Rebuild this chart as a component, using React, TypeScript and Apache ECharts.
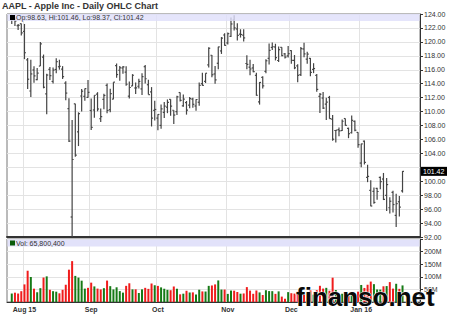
import React, { useEffect, useRef } from 'react';
import * as echarts from 'echarts';

const dates = [
  '2015-07-28','2015-07-29','2015-07-30','2015-07-31',
  '2015-08-03','2015-08-04','2015-08-05','2015-08-06','2015-08-07','2015-08-10','2015-08-11','2015-08-12','2015-08-13','2015-08-14','2015-08-17','2015-08-18','2015-08-19','2015-08-20','2015-08-21','2015-08-24','2015-08-25','2015-08-26','2015-08-27','2015-08-28','2015-08-31',
  '2015-09-01','2015-09-02','2015-09-03','2015-09-04','2015-09-08','2015-09-09','2015-09-10','2015-09-11','2015-09-14','2015-09-15','2015-09-16','2015-09-17','2015-09-18','2015-09-21','2015-09-22','2015-09-23','2015-09-24','2015-09-25','2015-09-28','2015-09-29','2015-09-30',
  '2015-10-01','2015-10-02','2015-10-05','2015-10-06','2015-10-07','2015-10-08','2015-10-09','2015-10-12','2015-10-13','2015-10-14','2015-10-15','2015-10-16','2015-10-19','2015-10-20','2015-10-21','2015-10-22','2015-10-23','2015-10-26','2015-10-27','2015-10-28','2015-10-29','2015-10-30',
  '2015-11-02','2015-11-03','2015-11-04','2015-11-05','2015-11-06','2015-11-09','2015-11-10','2015-11-11','2015-11-12','2015-11-13','2015-11-16','2015-11-17','2015-11-18','2015-11-19','2015-11-20','2015-11-23','2015-11-24','2015-11-25','2015-11-27','2015-11-30',
  '2015-12-01','2015-12-02','2015-12-03','2015-12-04','2015-12-07','2015-12-08','2015-12-09','2015-12-10','2015-12-11','2015-12-14','2015-12-15','2015-12-16','2015-12-17','2015-12-18','2015-12-21','2015-12-22','2015-12-23','2015-12-24','2015-12-28','2015-12-29','2015-12-30','2015-12-31',
  '2016-01-04','2016-01-05','2016-01-06','2016-01-07','2016-01-08','2016-01-11','2016-01-12','2016-01-13','2016-01-14','2016-01-15','2016-01-19','2016-01-20','2016-01-21','2016-01-22',
];

const opens = [
  123.38, 123.15, 122.32, 122.60,
  121.50, 117.42, 112.95, 115.97, 114.58, 116.53, 117.81, 112.53, 116.04, 114.32, 116.04, 116.43, 116.10, 114.08, 110.43, 94.87, 111.11, 107.09, 112.23, 112.17, 112.03,
  110.15, 110.23, 112.49, 108.97, 111.75, 113.76, 110.27, 111.79, 116.58, 115.93, 116.25, 115.66, 112.21, 113.67, 113.38, 113.63, 113.25, 116.44, 113.85, 112.83, 110.17,
  109.07, 108.01, 109.88, 110.63, 111.74, 110.19, 110.00, 112.73, 110.82, 111.29, 110.93, 111.78, 110.80, 111.34, 114.00, 114.33, 116.70, 118.08, 115.40, 116.93, 118.70, 120.99,
  119.87, 120.79, 123.13, 121.85, 121.11, 120.96, 116.90, 116.37, 116.26, 115.20, 111.38, 114.92, 115.76, 117.64, 119.20, 119.27, 117.33, 119.21, 118.29, 117.99,
  118.75, 117.34, 116.55, 115.29, 118.98, 117.52, 117.64, 116.04, 115.19, 112.18, 111.94, 111.07, 112.02, 108.91, 107.28, 107.40, 107.27, 109.00, 107.59, 106.96, 108.58, 107.01,
  102.61, 105.75, 100.56, 98.68, 98.55, 98.97, 100.55, 100.32, 97.96, 96.20, 98.41, 95.10, 97.06, 98.63,
];

const highs = [
  123.91, 123.50, 122.57, 122.64,
  122.57, 117.70, 117.44, 116.50, 116.25, 119.99, 118.18, 115.42, 116.40, 116.31, 117.65, 117.44, 116.52, 114.35, 111.90, 108.80, 111.11, 109.89, 113.24, 113.31, 114.53,
  111.88, 112.34, 112.78, 110.45, 112.56, 114.02, 113.28, 114.21, 116.89, 116.53, 116.54, 116.49, 114.30, 115.37, 114.18, 114.72, 115.50, 116.69, 114.57, 113.51, 111.54,
  109.62, 111.01, 111.37, 111.74, 111.77, 110.19, 112.28, 112.75, 112.45, 111.52, 112.10, 112.00, 111.75, 114.17, 115.58, 115.50, 119.23, 118.13, 116.54, 119.30, 120.69, 121.22,
  121.36, 123.49, 123.82, 122.69, 121.81, 121.81, 118.07, 117.42, 116.82, 115.57, 114.24, 115.05, 117.49, 119.75, 119.92, 119.73, 119.35, 119.23, 118.41, 119.41,
  118.81, 118.11, 116.79, 119.25, 119.86, 118.60, 117.69, 116.94, 115.39, 112.68, 112.80, 111.99, 112.25, 109.52, 107.37, 107.72, 108.85, 109.00, 107.69, 109.43, 108.70, 107.03,
  105.37, 105.85, 102.37, 100.13, 99.11, 99.06, 100.69, 101.19, 100.48, 97.71, 98.65, 98.19, 97.88, 101.46,
];

const lows = [
  122.55, 122.27, 121.71, 120.91,
  117.52, 113.25, 112.10, 114.12, 114.50, 116.53, 113.33, 109.63, 114.54, 114.01, 115.50, 116.01, 114.68, 111.63, 105.65, 92.00, 103.50, 105.05, 110.02, 111.54, 112.00,
  107.36, 109.13, 110.04, 108.51, 110.32, 109.77, 109.90, 111.76, 114.86, 114.42, 115.44, 113.72, 111.87, 113.66, 112.52, 113.30, 112.37, 114.02, 112.44, 107.86, 108.73,
  107.31, 107.55, 109.07, 109.77, 109.41, 108.21, 109.49, 111.44, 110.68, 109.56, 110.49, 110.53, 110.11, 110.82, 113.70, 114.10, 116.33, 114.92, 113.99, 116.06, 118.27, 119.45,
  119.61, 120.70, 121.62, 120.18, 120.62, 120.05, 116.06, 115.21, 115.65, 112.27, 111.00, 113.32, 115.50, 116.76, 118.85, 117.34, 117.12, 117.92, 117.60, 117.75,
  116.86, 116.08, 114.22, 115.11, 117.81, 116.86, 115.08, 115.51, 112.85, 109.79, 110.35, 108.80, 108.98, 105.81, 105.57, 106.45, 107.20, 107.95, 106.18, 106.86, 107.18, 104.82,
  102.00, 102.41, 99.87, 96.43, 96.76, 97.34, 98.84, 97.30, 95.74, 95.36, 95.50, 93.42, 94.94, 98.37,
];

const closes = [
  123.38, 122.99, 122.37, 121.30,
  118.44, 114.64, 115.40, 115.13, 115.52, 119.72, 113.49, 115.24, 115.15, 115.96, 117.16, 116.50, 115.01, 112.65, 105.76, 103.12, 103.74, 109.69, 112.92, 113.29, 112.76,
  107.72, 112.34, 110.37, 109.27, 112.31, 110.15, 112.57, 114.21, 115.31, 116.28, 116.41, 113.92, 113.45, 115.21, 113.40, 114.32, 115.00, 114.71, 112.44, 109.06, 110.30,
  109.58, 110.38, 110.78, 111.31, 110.78, 109.50, 112.12, 111.60, 111.79, 110.21, 111.86, 111.04, 111.73, 113.77, 113.76, 115.50, 119.08, 115.28, 114.55, 119.27, 120.53, 119.50,
  121.18, 122.57, 122.00, 120.92, 121.06, 120.57, 116.77, 116.11, 115.72, 112.34, 114.18, 113.69, 117.29, 118.78, 119.30, 117.75, 118.88, 118.03, 117.81, 118.30,
  117.34, 116.28, 115.20, 119.03, 118.28, 118.23, 115.62, 116.17, 113.18, 112.48, 110.49, 111.34, 108.98, 106.03, 107.33, 107.23, 108.61, 108.03, 106.82, 108.74, 107.32, 105.26,
  105.35, 102.71, 100.70, 96.45, 96.96, 98.53, 99.96, 97.39, 99.52, 97.13, 96.66, 96.79, 96.30, 101.42,
];

// volumes in millions of shares
const volumesM = [
  33.6, 37.0, 33.6, 42.9,
  69.9, 124.1, 99.3, 52.9, 38.7, 54.9, 97.1, 101.7, 48.5, 42.9, 40.9, 34.5, 48.3, 68.5, 128.3, 162.2, 103.6, 96.8, 84.6, 53.1, 56.2,
  76.8, 61.9, 53.2, 49.9, 54.8, 85.0, 62.9, 49.9, 58.4, 43.3, 37.2, 64.1, 74.3, 50.2, 50.3, 35.8, 50.2, 56.2, 52.1, 73.4, 66.5,
  63.9, 58.0, 52.6, 48.2, 46.8, 61.6, 52.6, 30.5, 33.0, 44.5, 37.7, 38.2, 29.8, 48.8, 42.0, 41.6, 64.0, 65.6, 69.8, 85.6, 49.4, 49.4,
  32.2, 45.5, 44.9, 39.6, 33.0, 33.9, 59.1, 45.2, 32.5, 45.8, 38.0, 27.7, 46.7, 43.3, 43.0, 32.3, 42.2, 21.4, 13.0, 39.2,
  34.9, 33.4, 41.6, 57.8, 32.1, 34.1, 46.4, 29.2, 46.9, 64.3, 53.3, 56.2, 44.7, 96.5, 47.6, 32.8, 32.7, 13.6, 26.7, 30.9, 25.2, 40.9,
  67.6, 55.8, 68.5, 81.1, 70.8, 49.7, 49.2, 62.4, 63.2, 79.0, 53.1, 72.3, 52.2, 65.8004,
];

const prevCloseBeforeStart = 122.77;
const monthLabels = ['Aug 15', 'Sep', 'Oct', 'Nov', 'Dec', 'Jan 16'];
const priceMin = 92;
const priceMax = 124;
const priceStep = 2;
const volMax = 250e6;
const volStep = 50e6;

const FONT = '"Liberation Sans", Arial, sans-serif';
const GREEN = '#167a16';
const RED = '#f01c1c';
const BAR = '#444';
const GRIDLINE = '#e3e3e3';

export default function App() {
  const ref = useRef<HTMLDivElement>(null);

  useEffect(() => {
    const chart = echarts.init(ref.current!, null, { renderer: 'svg' });
    const lead = 1;
    const trail = 5;
    const cats = [...Array(lead).fill(''), ...dates, ...Array(trail).fill('')];

    const monthStarts: number[] = [];
    dates.forEach((d, i) => {
      if (i > 0 && d.slice(5, 7) !== dates[i - 1].slice(5, 7)) monthStarts.push(i + lead);
    });
    const labelMap = new Map<number, string>();
    monthStarts.forEach((idx, k) => labelMap.set(idx, monthLabels[k]));
    const isMonthStart = (index: number) => labelMap.has(index);

    const ohlc = dates.map((_, i) => [i + lead, opens[i], highs[i], lows[i], closes[i]]);
    const vol = dates.map((_, i) => {
      const prev = i > 0 ? closes[i - 1] : prevCloseBeforeStart;
      return {
        value: [i + lead, volumesM[i] * 1e6],
        itemStyle: { color: closes[i] >= prev ? GREEN : RED },
      };
    });

    const last = dates.length - 1;

    const gridBase = { left: 7, width: 413, show: true, borderColor: '#777', borderWidth: 1, backgroundColor: '#fff' };

    chart.setOption({
      animation: false,
      backgroundColor: '#fff',
      textStyle: { fontFamily: FONT },
      grid: [
        { ...gridBase, top: 14, height: 223 },
        { ...gridBase, top: 239, height: 63 },
      ],
      xAxis: [
        {
          type: 'category', gridIndex: 0, data: cats, boundaryGap: true,
          axisLine: { show: true, lineStyle: { color: '#333', width: 2 } },
          axisTick: { show: false }, axisLabel: { show: false },
          splitLine: { show: true, interval: (i: number) => isMonthStart(i), lineStyle: { color: GRIDLINE, width: 1 } },
        },
        {
          type: 'category', gridIndex: 1, data: cats, boundaryGap: true,
          axisLine: { show: true, lineStyle: { color: '#333', width: 1 } },
          axisTick: { show: false },
          axisLabel: {
            show: true, interval: (i: number) => isMonthStart(i),
            formatter: (_v: string, i: number) => labelMap.get(i) ?? '',
            fontSize: 7, fontWeight: 'bold', color: '#333', margin: 4, fontFamily: FONT,
          },
          splitLine: { show: true, interval: (i: number) => isMonthStart(i), lineStyle: { color: GRIDLINE, width: 1 } },
        },
      ],
      yAxis: [
        {
          type: 'value', gridIndex: 0, position: 'right', min: priceMin, max: priceMax, interval: priceStep,
          axisLine: { show: true, lineStyle: { color: '#333' } },
          axisTick: { show: true, length: 3, lineStyle: { color: '#333' } },
          axisLabel: {
            fontSize: 7, color: '#333', margin: 4, fontFamily: FONT,
            formatter: (v: number) => (Math.abs(v - 102) < 1e-9 ? '' : v.toFixed(2)),
          },
          splitLine: { show: true, lineStyle: { color: GRIDLINE } },
        },
        {
          type: 'value', gridIndex: 1, position: 'right', min: 0, max: volMax, interval: volStep,
          axisLine: { show: true, lineStyle: { color: '#333' } },
          axisTick: { show: true, length: 3, lineStyle: { color: '#333' } },
          axisLabel: {
            fontSize: 7, color: '#333', margin: 4, fontFamily: FONT,
            formatter: (v: number) => (v === 0 || v === volMax ? '' : v / 1e6 + 'M'),
          },
          splitLine: { show: true, lineStyle: { color: GRIDLINE } },
        },
      ],
      series: [
        {
          type: 'custom', name: 'AAPL', xAxisIndex: 0, yAxisIndex: 0, z: 3,
          encode: { x: 0, y: [1, 2, 3, 4] },
          data: ohlc,
          renderItem: (_params: any, api: any) => {
            const xv = api.value(0);
            const o = api.coord([xv, api.value(1)]);
            const h = api.coord([xv, api.value(2)]);
            const l = api.coord([xv, api.value(3)]);
            const c = api.coord([xv, api.value(4)]);
            const xs = h[0];
            const t = 1.5;
            const st = { stroke: BAR, lineWidth: 1.2 };
            return {
              type: 'group',
              children: [
                { type: 'line', shape: { x1: xs, y1: h[1], x2: xs, y2: l[1] }, style: st },
                { type: 'line', shape: { x1: xs - t, y1: o[1], x2: xs, y2: o[1] }, style: st },
                { type: 'line', shape: { x1: xs, y1: c[1], x2: xs + t, y2: c[1] }, style: st },
              ],
            };
          },
        },
        {
          type: 'bar', name: 'Volume', xAxisIndex: 1, yAxisIndex: 1, barWidth: 2,
          data: vol,
        },
      ],
    });

    const tagY = chart.convertToPixel({ yAxisIndex: 0 }, closes[last]) as number;
    const volText = 'Vol: ' + Math.round(volumesM[last] * 1e6).toLocaleString('en-US');
    const lastUp = closes[last] >= closes[last - 1];
    const opText = `Op:${opens[last].toFixed(2)}, Hi:${highs[last].toFixed(2)}, Lo:${lows[last].toFixed(2)}, Cl:${closes[last].toFixed(2)}`;

    chart.setOption({
      graphic: [
        {
          type: 'text', x: 2, y: 6, z: 20,
          style: { text: 'AAPL - Apple Inc - Daily OHLC Chart', font: `bold 9px ${FONT}`, fill: '#333', verticalAlign: 'middle' },
        },
        { type: 'rect', z: 10, shape: { x: 7.5, y: 14, width: 412, height: 7 }, style: { fill: 'rgba(222,222,250,0.8)' } },
        { type: 'rect', z: 11, shape: { x: 10, y: 15, width: 5, height: 5 }, style: { fill: '#000' } },
        {
          type: 'text', x: 16, y: 17.8, z: 11,
          style: { text: opText, font: `7px ${FONT}`, fill: '#333', verticalAlign: 'middle' },
        },
        { type: 'rect', z: 10, shape: { x: 7.5, y: 239.5, width: 412, height: 7 }, style: { fill: '#e2e2fa' } },
        { type: 'rect', z: 11, shape: { x: 10, y: 240.5, width: 5, height: 5 }, style: { fill: lastUp ? '#0a5c0a' : RED } },
        {
          type: 'text', x: 16, y: 243.2, z: 11,
          style: { text: volText, font: `7px ${FONT}`, fill: '#333', verticalAlign: 'middle' },
        },
        { type: 'rect', z: 12, shape: { x: 421, y: tagY - 4.5, width: 26, height: 9 }, style: { fill: '#000' } },
        {
          type: 'text', x: 423, y: tagY, z: 13,
          style: { text: closes[last].toFixed(2), font: `7px ${FONT}`, fill: '#fff', verticalAlign: 'middle' },
        },
        {
          type: 'text', x: 296, y: 297, z: 30,
          style: { text: 'finanso.net', font: `bold 26px ${FONT}`, fill: '#0a0a0a', stroke: '#fff', lineWidth: 1, verticalAlign: 'middle' },
        },
      ],
    });

    return () => chart.dispose();
  }, []);

  return (
    <div
      ref={ref}
      style={{ position: 'fixed', left: 0, top: 0, width: 450, height: 328, background: '#fff' }}
    />
  );
}
